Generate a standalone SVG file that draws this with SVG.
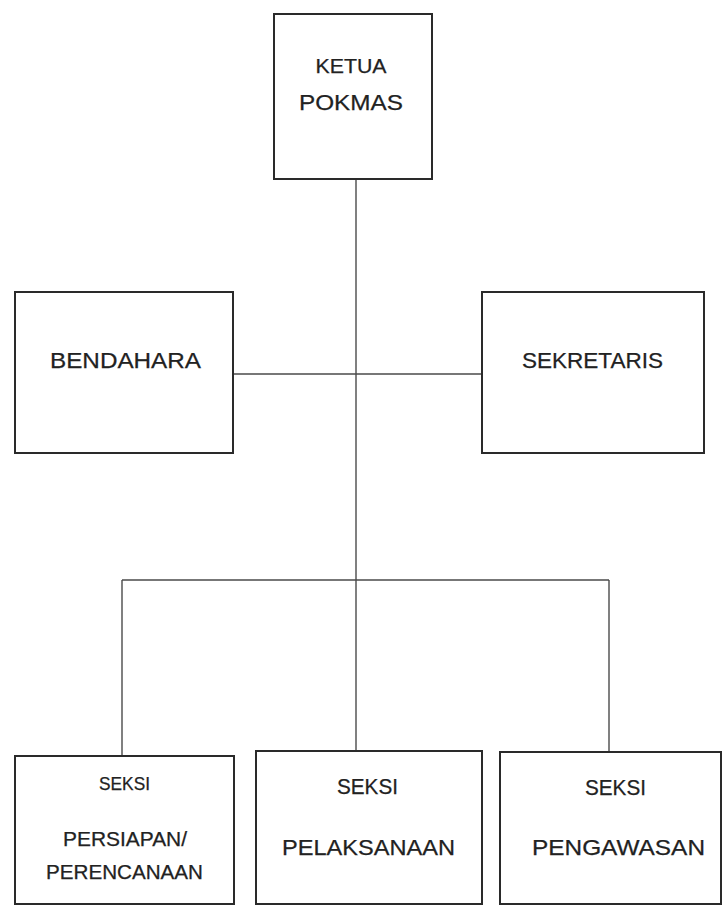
<svg xmlns="http://www.w3.org/2000/svg" width="723" height="906" viewBox="0 0 723 906">
<style>
.box{fill:#fff;stroke:#2a2a2a;stroke-width:2}
.conn{fill:none;stroke:#4a4a4a;stroke-width:1.4}
.t{font-family:"Liberation Sans",Arial,sans-serif;fill:#222;text-anchor:middle;stroke:#222;stroke-width:0.25}
</style>
<rect x="0" y="0" width="723" height="906" fill="#fff"/>
<g id="connectors">
<line class="conn" x1="356" y1="179" x2="356" y2="751"/>
<line class="conn" x1="233" y1="374" x2="482" y2="374"/>
<line class="conn" x1="122" y1="580" x2="609" y2="580"/>
<line class="conn" x1="122" y1="580" x2="122" y2="756"/>
<line class="conn" x1="609" y1="580" x2="609" y2="752"/>
</g>
<g id="ketua">
<rect class="box" x="274" y="14" width="158" height="165"/>
<text class="t" x="351" y="72.5" font-size="20" textLength="71" lengthAdjust="spacingAndGlyphs">KETUA</text>
<text class="t" x="351" y="110" font-size="22" textLength="104" lengthAdjust="spacingAndGlyphs">POKMAS</text>
</g>
<g id="bendahara">
<rect class="box" x="15" y="292" width="218" height="161"/>
<text class="t" x="125.5" y="368" font-size="22.5" textLength="151" lengthAdjust="spacingAndGlyphs">BENDAHARA</text>
</g>
<g id="sekretaris">
<rect class="box" x="482" y="292" width="222" height="161"/>
<text class="t" x="592.5" y="368" font-size="22.5" textLength="141" lengthAdjust="spacingAndGlyphs">SEKRETARIS</text>
</g>
<g id="seksi-persiapan">
<rect class="box" x="15" y="756" width="219" height="148"/>
<text class="t" x="124.5" y="790" font-size="19" textLength="51" lengthAdjust="spacingAndGlyphs">SEKSI</text>
<text class="t" x="125" y="846" font-size="19.5" textLength="124" lengthAdjust="spacingAndGlyphs">PERSIAPAN/</text>
<text class="t" x="124.5" y="879" font-size="19.5" textLength="157" lengthAdjust="spacingAndGlyphs">PERENCANAAN</text>
</g>
<g id="seksi-pelaksanaan">
<rect class="box" x="256" y="751" width="226" height="153"/>
<text class="t" x="367.5" y="794" font-size="21.5" textLength="61" lengthAdjust="spacingAndGlyphs">SEKSI</text>
<text class="t" x="368.5" y="855" font-size="22.5" textLength="173" lengthAdjust="spacingAndGlyphs">PELAKSANAAN</text>
</g>
<g id="seksi-pengawasan">
<rect class="box" x="500" y="752" width="221" height="152"/>
<text class="t" x="615.5" y="795" font-size="21.5" textLength="61" lengthAdjust="spacingAndGlyphs">SEKSI</text>
<text class="t" x="618.5" y="855" font-size="22.5" textLength="173" lengthAdjust="spacingAndGlyphs">PENGAWASAN</text>
</g>
</svg>
